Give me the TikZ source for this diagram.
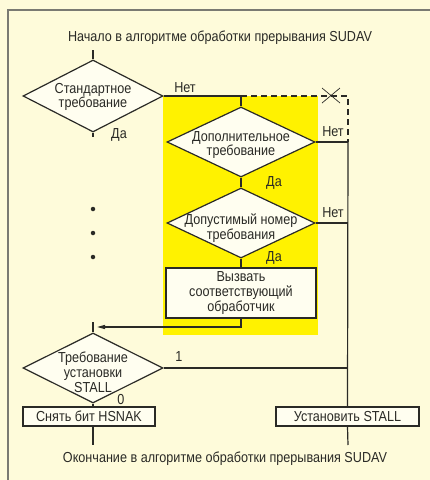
\documentclass[tikz,border=0pt]{standalone}
\usepackage{fontspec}
\setmainfont{Liberation Sans}[FakeStretch=0.87]
\usetikzlibrary{shapes.geometric,arrows.meta}
\definecolor{paper}{HTML}{FEFBDA}
\definecolor{hilite}{HTML}{FFF200}
\definecolor{ink}{HTML}{2A2A26}
\definecolor{framegray}{HTML}{7A7A72}
\definecolor{boxfill}{HTML}{FFFEF0}
\tikzset{
  flow/.style={draw=ink, line width=1.2pt},
  dia/.style={flow, shape=diamond, fill=boxfill, inner sep=0pt},
  procbox/.style={flow, rectangle, fill=boxfill, inner sep=0pt},
  txt/.style={text=ink, font=\fontsize{14.5}{14.8}\selectfont, align=center, inner sep=0pt},
  lbl/.style={text=ink, font=\fontsize{14.5}{14.8}\selectfont, inner sep=0pt},
  conn/.style={draw=ink, line width=1.2pt},
  dashconn/.style={conn, dash pattern=on 6pt off 4pt},
  dot/.style={circle, fill=ink, inner sep=0pt, minimum size=4.5pt}
}
\begin{document}
\begin{tikzpicture}[x=1pt, y=-1pt]
  % page and frame
  \fill[paper] (0,0) rectangle (430,480);
  \useasboundingbox (0,0) rectangle (430,480);
  \draw[framegray, line width=2pt] (8,482) -- (8,10) -- (432,10);

  % highlighted block
  \fill[hilite] (163,96) rectangle (318,335);

  % headings
  \node[lbl] (start) at (220,38) {Начало в алгоритме обработки прерывания SUDAV};
  \node[lbl] (finish) at (225,459) {Окончание в алгоритме обработки прерывания SUDAV};

  % decisions
  \node[dia, minimum width=140pt, minimum height=72pt] (d1) at (93,96) {};
  \node[txt] (d1t) at (93,97) {Стандартное\\требование};
  \node[dia, minimum width=148pt, minimum height=70pt] (d2) at (241,142) {};
  \node[txt] (d2t) at (241,145) {Дополнительное\\требование};
  \node[dia, minimum width=148pt, minimum height=70pt] (d3) at (241,223) {};
  \node[txt] (d3t) at (241,228) {Допустимый номер\\требования};
  \node[dia, minimum width=140pt, minimum height=70pt] (d4) at (93,368) {};
  \node[txt] (d4t) at (93,372) {Требование\\установки\\STALL};

  % actions
  \node[procbox, minimum width=150pt, minimum height=50pt] (call) at (241,293) {};
  \node[txt] (callt) at (241,293) {Вызвать\\соответствующий\\обработчик};
  \node[procbox, minimum width=132pt, minimum height=19pt] (hsnak) at (89,416.5) {};
  \node[lbl] (hsnakt) at (89,416.5) {Снять бит HSNAK};
  \node[procbox, minimum width=143pt, minimum height=19pt] (stall) at (347.5,416.5) {};
  \node[lbl] (stallt) at (347.5,416.5) {Установить STALL};

  % joints and free ends
  \coordinate (in1) at (93,50);
  \coordinate (out1) at (93,137);
  \coordinate (j1) at (241,96);
  \coordinate (rc) at (348,96);
  \coordinate (r2) at (348,142);
  \coordinate (r3) at (348,223);
  \coordinate (r4) at (348,368);
  \coordinate (bend) at (241,327);
  \coordinate (merge) at (93,327);
  \coordinate (mtop) at (93,322);
  \coordinate (end1) at (93,445);
  \coordinate (end2) at (348,445);

  % dots for the omitted checks
  \node[dot] (p1) at (93,209) {};
  \node[dot] (p2) at (93,233) {};
  \node[dot] (p3) at (93,257) {};

  % connectors
  \draw[conn] (in1) -- (d1.north);
  \draw[conn] (d1.south) -- (out1);
  \draw[conn] (d1.east) -- (j1) -- (d2.north);
  \draw[dashconn] (j1) -- (rc) -- (r2);
  \draw[conn] (d2.east) -- (r2);
  \draw[conn] (d2.south) -- (d3.north);
  \draw[conn] (d3.east) -- (r3);
  \draw[conn] (d3.south) -- (call.north);
  \draw[conn, -{Triangle[length=8pt, width=4pt]}] (call.south) -- (bend) -- ([xshift=4pt]merge);
  \draw[conn] (mtop) -- (d4.north);
  \draw[conn] (d4.east) -- (r4);
  \draw[conn] (r2) -- (stall.north);
  \draw[conn] (d4.south) -- (d4.south |- hsnak.north);
  \draw[conn] (d4.south |- hsnak.south) -- (end1);
  \draw[conn] (stall.south) -- (end2);

  % cross on the dashed branch
  \draw[ink, line width=0.7pt] (322,88) -- (340,103) (322,103) -- (340,88);

  % branch labels
  \node[lbl] (l1) at (185,88) {Нет};
  \node[lbl] (l2) at (119,135) {Да};
  \node[lbl] (l3) at (333,132) {Нет};
  \node[lbl] (l4) at (274,183) {Да};
  \node[lbl] (l5) at (333,213) {Нет};
  \node[lbl] (l6) at (274,258) {Да};
  \node[lbl] (l7) at (179,357) {1};
  \node[lbl] (l8) at (121,400) {0};
\end{tikzpicture}
\end{document}
